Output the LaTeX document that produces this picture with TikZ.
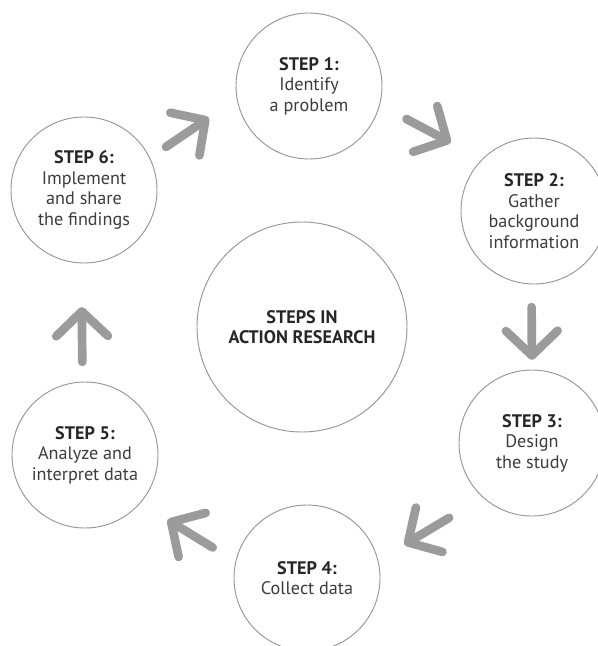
\documentclass[tikz,border=0pt]{standalone}
\usepackage{fontspec}
\setmainfont{PT Sans}
\usetikzlibrary{arrows.meta}
\definecolor{ringgray}{RGB}{150,150,150}
\definecolor{arrowgray}{RGB}{155,155,155}
\definecolor{textgray}{RGB}{60,60,60}
\newcommand{\steptitle}[1]{{\bfseries\color{black!85}#1}}
\tikzstyle{stepnode} = [circle, 
minimum size=4.38cm, 
inner sep=0pt, 
draw=ringgray, 
line width=0.8pt, 
align=center, 
text=textgray, 
font=\fontsize{15.5}{17.5}\selectfont]
\tikzstyle{hubnode} = [stepnode, 
minimum size=6.3cm]
\tikzstyle{bigarrow} = [line width=0.26cm, draw=arrowgray, line cap=round, 
-{Straight Barb[length=0.74cm, width=1.55cm, round]}]

\begin{document}
\begin{tikzpicture}[x=0.03cm, y=-0.03cm]
\useasboundingbox (0,0) rectangle (598,646);

% Nodes
\node (s1) [stepnode] at (309,86) {\steptitle{STEP 1:}\\Identify\\a problem};
\node (s2) [stepnode] at (534,211) {\steptitle{STEP 2:}\\Gather\\background\\information};
\node (s3) [stepnode] at (532,443) {\steptitle{STEP 3:}\\Design\\the study};
\node (s4) [stepnode] at (307,578) {\steptitle{STEP 4:}\\Collect data};
\node (s5) [stepnode] at (85,455) {\steptitle{STEP 5:}\\Analyze and\\interpret data};
\node (s6) [stepnode] at (84,190) {\steptitle{STEP 6:}\\Implement\\and share\\the findings};
\node (hub) [hubnode] at (302,327) {\steptitle{STEPS IN}\\\steptitle{ACTION RESEARCH}};

% Arrows
\draw [bigarrow, shorten <=0.90cm, shorten >=1.06cm] (s1.-15) -- (s2.135);
\draw [bigarrow, shorten <=0.68cm, shorten >=0.29cm] (s2.-92) -- (s3.90);
\draw [bigarrow, shorten <=1.18cm, shorten >=0.91cm] (s3.-132) -- (s4.14);
\draw [bigarrow, shorten <=0.80cm, shorten >=0.95cm] (s4.167) -- (s5.-41);
\draw [bigarrow, shorten <=0.59cm, shorten >=1.31cm] (s5.92) -- (s6.-92);
\draw [bigarrow, shorten <=0.58cm, shorten >=1.01cm] (s6.26) -- (s1.190);

\end{tikzpicture}
\end{document}
